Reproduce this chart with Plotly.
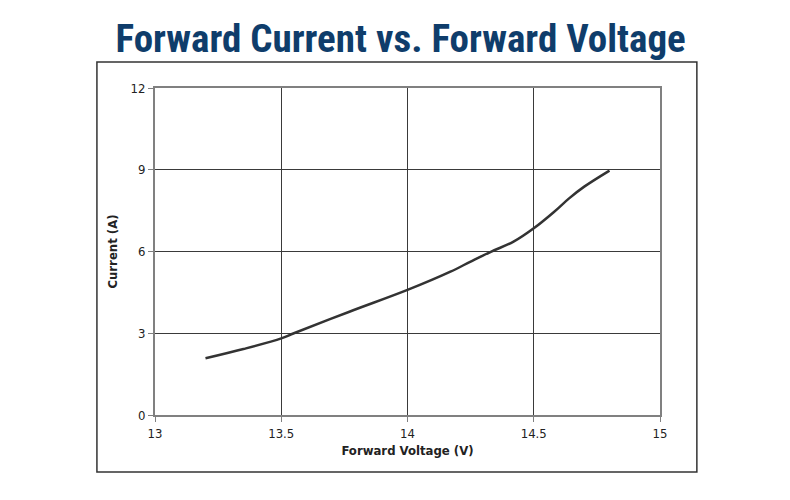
import plotly.graph_objects as go

# Forward current curve
voltage = [13.20, 13.35, 13.50, 13.55, 13.77, 14.00, 14.17, 14.25, 14.33, 14.42, 14.50, 14.58, 14.64, 14.70, 14.80]
current = [2.08, 2.42, 2.81, 3.00, 3.79, 4.59, 5.26, 5.63, 5.99, 6.36, 6.85, 7.45, 7.95, 8.38, 8.97]

x_ticks = [13, 13.5, 14, 14.5, 15]
x_labels = ["13", "13.5", "14", "14.5", "15"]
y_ticks = [0, 3, 6, 9, 12]

axis_font = "DejaVu Sans Condensed, DejaVu Sans, sans-serif"

fig = go.Figure()
fig.add_trace(go.Scatter(
    x=voltage, y=current, mode="lines",
    line=dict(color="#333333", width=2.5, shape="spline", smoothing=1.0),
    hoverinfo="x+y", showlegend=False,
))

fig.update_layout(
    width=790, height=500,
    margin=dict(l=147, r=138, t=80, b=93),
    paper_bgcolor="white", plot_bgcolor="white",
    title=dict(
        text="<b>Forward Current vs. Forward Voltage</b>",
        x=0.497, xref="container", xanchor="center",
        y=0.94, yref="container", yanchor="middle",
        font=dict(family="Liberation Sans Narrow, Roboto Condensed, Roboto, sans-serif",
                  size=39, color="#0f3d6b"),
    ),
    font=dict(family=axis_font, size=13, color="#222222"),
)

fig.update_xaxes(
    range=[13, 15], tickvals=x_ticks, ticktext=x_labels,
    showgrid=True, gridcolor="#3a3a3a", gridwidth=1,
    showline=True, linecolor="#808080", linewidth=2, mirror=True,
    ticks="outside", ticklen=5, tickcolor="#808080",
    zeroline=False,
    title=dict(text="<b>Forward Voltage (V)</b>", standoff=6,
               font=dict(family=axis_font, size=13, color="#222222")),
)
fig.update_yaxes(
    range=[0, 12], tickvals=y_ticks,
    showgrid=True, gridcolor="#3a3a3a", gridwidth=1,
    showline=True, linecolor="#808080", linewidth=2, mirror=True,
    ticks="outside", ticklen=5, tickcolor="#808080",
    zeroline=False,
    title=dict(text="<b>Current (A)</b>", standoff=10,
               font=dict(family=axis_font, size=13, color="#222222")),
)

# outer frame around the chart block
fig.add_shape(type="rect", xref="paper", yref="paper",
              x0=-0.115, x1=1.073, y0=-0.174, y1=1.0795,
              line=dict(color="#333333", width=1.5), layer="below")

fig.write_html("out.html")
